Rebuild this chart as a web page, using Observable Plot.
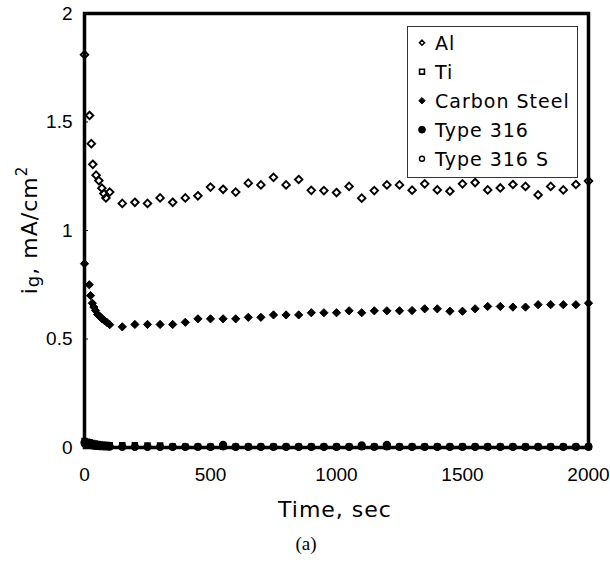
<!DOCTYPE html>
<html>
<head>
<meta charset="utf-8">
<script src="https://cdn.jsdelivr.net/npm/d3@7"></script>
<script src="https://cdn.jsdelivr.net/npm/@observablehq/plot@0.6"></script>
<style>
  body { margin: 0; background: #fff; }
  #chart { position: relative; width: 610px; height: 564px; background: #fff; }
  #caption {
    position: absolute; left: 0; top: 533px; width: 612px; text-align: center;
    font-family: "Liberation Serif", "Times New Roman", serif; font-size: 19px; color: #000;
  }
</style>
</head>
<body>
<div id="chart"></div>
<script>
// Galvanic current density vs. time for five metals
const seriesNames = ["Al", "Ti", "Carbon Steel", "Type 316", "Type 316 S"];
const xTicks = [0, 500, 1000, 1500, 2000];
const yTicks = [0, 0.5, 1, 1.5, 2];

// Al (open diamonds)
const alTime = [0, 20, 27, 33, 46, 57, 69, 77, 85, 100,
  150, 200, 250, 300, 350, 400, 450, 500, 550, 600, 650, 700, 750, 800, 850, 900, 950, 1000,
  1050, 1100, 1150, 1200, 1250, 1300, 1350, 1400, 1450, 1500, 1550, 1600, 1650, 1700, 1750,
  1800, 1850, 1900, 1950, 2000];
const alValue = [1.81, 1.53, 1.40, 1.305, 1.255, 1.23, 1.195, 1.17, 1.15, 1.177,
  1.125, 1.13, 1.125, 1.15, 1.13, 1.15, 1.16, 1.20, 1.19, 1.177, 1.218, 1.21, 1.245, 1.21,
  1.235, 1.185, 1.184, 1.175, 1.203, 1.149, 1.184, 1.21, 1.21, 1.186, 1.215, 1.187, 1.181,
  1.215, 1.221, 1.187, 1.196, 1.212, 1.203, 1.164, 1.203, 1.187, 1.212, 1.228];

// Carbon steel (filled diamonds)
const csTime = [0, 19, 24, 31, 37, 44, 52, 61, 70, 79, 90, 100,
  150, 200, 250, 300, 350, 400, 450, 500, 550, 600, 650, 700, 750, 800, 850, 900, 950, 1000,
  1050, 1100, 1150, 1200, 1250, 1300, 1350, 1400, 1450, 1500, 1550, 1600, 1650, 1700, 1750,
  1800, 1850, 1900, 1950, 2000];
const csValue = [0.847, 0.75, 0.70, 0.665, 0.647, 0.631, 0.613, 0.604, 0.593, 0.585, 0.575, 0.566,
  0.556, 0.567, 0.567, 0.567, 0.567, 0.577, 0.593, 0.593, 0.593, 0.593,
  0.600, 0.600, 0.611, 0.611, 0.611, 0.621, 0.621, 0.621,
  0.630, 0.621, 0.630, 0.630, 0.630, 0.631, 0.639, 0.639, 0.628, 0.628,
  0.639, 0.650, 0.650, 0.647, 0.647, 0.658, 0.658, 0.658, 0.658, 0.665];

// Ti, Type 316 and Type 316 S stay close to zero
const lowTime = [0, 10, 20, 30, 40, 50, 60, 70, 80, 90, 100,
  150, 200, 250, 300, 350, 400, 450, 500, 550, 600, 650, 700, 750, 800, 850, 900, 950, 1000,
  1050, 1100, 1150, 1200, 1250, 1300, 1350, 1400, 1450, 1500, 1550, 1600, 1650, 1700, 1750,
  1800, 1850, 1900, 1950, 2000];
const tiValue = [0.030, 0.027, 0.024, 0.021, 0.018, 0.016, 0.014, 0.013, 0.012, 0.011, 0.010,
  0.010, 0.010, 0.009, 0.009, 0.005, 0.004, 0.004, 0.004, 0.004, 0.004, 0.004, 0.004, 0.004,
  0.004, 0.004, 0.004, 0.004, 0.004, 0.004, 0.004, 0.004, 0.004, 0.004, 0.004, 0.004, 0.004,
  0.004, 0.004, 0.004, 0.004, 0.004, 0.004, 0.004, 0.004, 0.004, 0.004, 0.004, 0.004];
const t316Value = [0.022, 0.018, 0.014, 0.011, 0.009, 0.008, 0.007, 0.006, 0.005, 0.005, 0.004,
  0.003, 0.003, 0.003, 0.003, 0.003, 0.003, 0.003, 0.003, 0.012, 0.003, 0.003, 0.003, 0.003,
  0.003, 0.003, 0.003, 0.003, 0.003, 0.003, 0.010, 0.003, 0.012, 0.003, 0.003, 0.003, 0.003,
  0.003, 0.003, 0.003, 0.003, 0.003, 0.003, 0.003, 0.003, 0.003, 0.003, 0.003, 0.003];
const t316sValue = [0.015, 0.012, 0.010, 0.008, 0.007, 0.006, 0.005, 0.004, 0.004, 0.003, 0.003,
  0.002, 0.002, 0.002, 0.002, 0.002, 0.002, 0.002, 0.002, 0.002, 0.002, 0.002, 0.002, 0.002,
  0.002, 0.002, 0.002, 0.002, 0.002, 0.002, 0.002, 0.002, 0.002, 0.002, 0.002, 0.002, 0.002,
  0.002, 0.002, 0.002, 0.002, 0.002, 0.002, 0.002, 0.002, 0.002, 0.002, 0.002, 0.002];

const pts = (ts, vs) => ts.map((t, i) => ({t, v: vs[i]}));
const alData = pts(alTime, alValue);
const csData = pts(csTime, csValue);
const tiData = pts(lowTime, tiValue);
const t316Data = pts(lowTime, t316Value);
const t316sData = pts(lowTime, t316sValue);

const plot = Plot.plot({
  width: 610,
  height: 530,
  marginLeft: 84,
  marginRight: 22,
  marginTop: 13,
  marginBottom: 83,
  style: {fontFamily: "'Liberation Sans', Arial, sans-serif", fontSize: "19px", color: "#000", background: "#fff", overflow: "visible"},
  x: {domain: [0, 2000], label: null},
  y: {domain: [0, 2], label: null},
  marks: [
    Plot.axisX({ticks: xTicks, tickSize: -4, tickPadding: 24, tickFormat: d => String(d), label: null}),
    Plot.axisY({ticks: yTicks, tickSize: -4, tickPadding: 16, tickFormat: d => String(d), label: null}),
    Plot.frame({stroke: "#000", strokeWidth: 3.5}),
    Plot.dot(t316sData, {x: "t", y: "v", symbol: "circle", r: 2.8, stroke: "#000", strokeWidth: 1.3, fill: "white"}),
    Plot.dot(t316Data, {x: "t", y: "v", symbol: "circle", r: 3.4, fill: "#000", stroke: "#000"}),
    Plot.dot(tiData, {x: "t", y: "v", symbol: "square2", r: 3.0, stroke: "#000", strokeWidth: 1.8, fill: "none"}),
    Plot.dot(csData, {x: "t", y: "v", symbol: "diamond2", r: 3.7, fill: "#000", stroke: "#000", strokeWidth: 1}),
    Plot.dot(alData, {x: "t", y: "v", symbol: "diamond2", r: 3.4, stroke: "#000", strokeWidth: 1.9, fill: "none"})
  ]
});

const chart = document.getElementById("chart");
chart.appendChild(plot);

const svg = d3.select(plot);
const titleFont = "'DejaVu Sans', sans-serif";

// Axis titles
svg.append("text")
  .attr("x", 335).attr("y", 517)
  .attr("text-anchor", "middle")
  .attr("font-family", titleFont).attr("font-size", 22).attr("letter-spacing", 1)
  .attr("fill", "#000")
  .text("Time, sec");

const yt = svg.append("text")
  .attr("transform", "translate(37,230) rotate(-90)")
  .attr("text-anchor", "middle")
  .attr("font-family", titleFont).attr("font-size", 22).attr("letter-spacing", 1)
  .attr("fill", "#000");
yt.append("tspan").text("i");
yt.append("tspan").attr("font-size", 18).attr("dy", 2).text("g");
yt.append("tspan").attr("dy", -2).text(", mA/cm");
yt.append("tspan").attr("font-size", 15).attr("dy", -10).text("2");

// Legend box
const lg = svg.append("g").attr("text-anchor", "start");
lg.append("rect")
  .attr("x", 407.5).attr("y", 26.5).attr("width", 170).attr("height", 151)
  .attr("fill", "#fff").attr("stroke", "#333").attr("stroke-width", 1);
const legendMarks = [
  {sym: d3.symbolDiamond2, size: 16, fill: "none", sw: 1.6},
  {sym: d3.symbolSquare2, size: 30, fill: "none", sw: 1.6},
  {sym: d3.symbolDiamond2, size: 26, fill: "#000", sw: 1},
  {sym: d3.symbolCircle, size: 36, fill: "#000", sw: 1},
  {sym: d3.symbolCircle, size: 20, fill: "#fff", sw: 1.4}
];
seriesNames.forEach((name, i) => {
  const cy = 42.7 + i * 29;
  const m = legendMarks[i];
  lg.append("path")
    .attr("transform", `translate(422,${cy})`)
    .attr("d", d3.symbol(m.sym, m.size)())
    .attr("fill", m.fill).attr("stroke", "#000").attr("stroke-width", m.sw);
  lg.append("text")
    .attr("x", 435).attr("y", cy + 7)
    .attr("text-anchor", "start")
    .attr("font-family", titleFont).attr("font-size", 19).attr("letter-spacing", 1)
    .attr("fill", "#000")
    .text(name);
});

const cap = document.createElement("div");
cap.id = "caption";
cap.textContent = "(a)";
chart.appendChild(cap);
</script>
</body>
</html>
